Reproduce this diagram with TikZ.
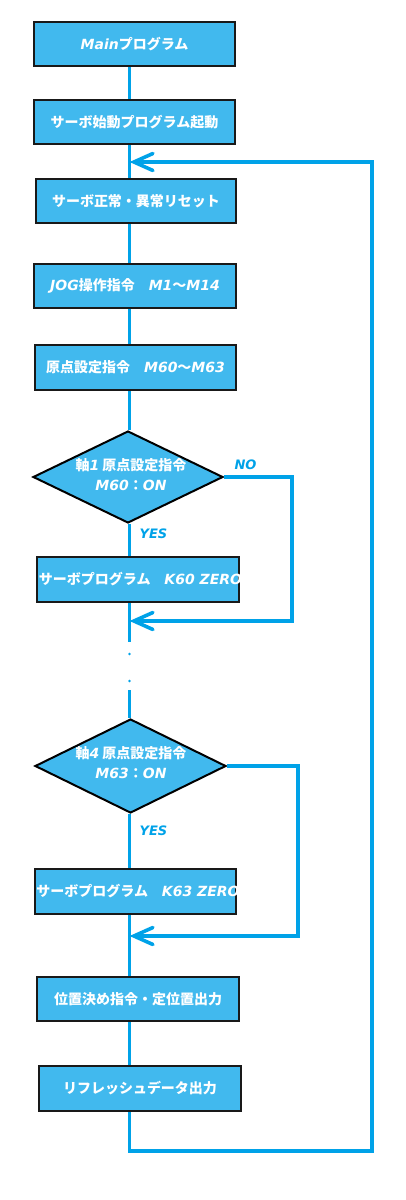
\documentclass[tikz,border=0pt]{standalone}
\usepackage{fontspec}
\usetikzlibrary{shapes.geometric,arrows.meta,calc}
\newfontfamily\jpf{Noto Sans CJK JP}
\newfontfamily\latf{DejaVu Sans}
\newcommand\LI[1]{{\latf\bfseries\itshape #1}}
\definecolor{boxblue}{RGB}{65,185,238}
\definecolor{lineblue}{RGB}{0,162,232}
\tikzset{
  fbox/.style={draw=black!90, line width=2.4pt, fill=boxblue, inner sep=0pt,
    minimum height=44pt, text=white, font=\jpf\bfseries\fontsize{14}{16}\selectfont},
  ftext/.style={text=white, inner sep=0pt, font=\jpf\bfseries\fontsize{14}{16}\selectfont},
  fdia/.style={draw=black, line width=2pt, fill=boxblue, diamond, inner sep=0pt},
  dtext/.style={text=white, align=center, font=\jpf\bfseries\fontsize{14}{20}\selectfont},
  conn/.style={draw=lineblue, line width=3.6pt},
  back/.style={conn, -{Straight Barb[length=19pt,width=17pt,line cap=round,line width=3.6pt]}},
  lbl/.style={text=lineblue, font=\latf\bfseries\itshape\fontsize{13}{15}\selectfont},
  dotmark/.style={circle, fill=lineblue, inner sep=0pt, minimum size=2.6pt},
}
\begin{document}
\begin{tikzpicture}[x=1pt,y=-1pt]
\useasboundingbox (0,0) rectangle (406,1200);
\coordinate (sp) at (129.5,0);
% boxes
\node[fbox, minimum width=201pt] (main) at (134.5,44) {\LI{Main}プログラム};
\node[fbox, minimum width=201pt] (serv) at (134.5,122) {サーボ始動プログラム起動};
\node[fbox, minimum width=200pt] (reset) at (136,201) {サーボ正常・異常リセット};
\node[fbox, minimum width=202pt] (jog) at (135,286) {\LI{JOG}操作指令　\LI{M1}～\LI{M14}};
\node[fbox, minimum width=201pt, minimum height=45pt] (gen) at (135.5,367.5) {原点設定指令　\LI{M60}～\LI{M63}};
\node[fdia, minimum width=190pt, minimum height=92pt] (d1) at (128,477) {};
\node[dtext] (d1t) at (131,475) {軸\LI{1} 原点設定指令\\\LI{M60}：\LI{ON}};
\node[fbox, minimum width=202pt, minimum height=45pt] (k60) at (138,579.5) {};
\node[ftext] (k60t) at (140.5,579.5) {サーボプログラム　\LI{K60 ZERO}};
\node[fdia, minimum width=191pt, minimum height=94pt] (d2) at (130.5,766) {};
\node[dtext] (d2t) at (131,763) {軸\LI{4} 原点設定指令\\\LI{M63}：\LI{ON}};
\node[fbox, minimum width=201pt, minimum height=45pt] (k63) at (135.5,891.5) {};
\node[ftext] (k63t) at (138,891.5) {サーボプログラム　\LI{K63 ZERO}};
\node[fbox, minimum width=202pt] (pos) at (138,999) {位置決め指令・定位置出力};
\node[fbox, minimum width=202pt, minimum height=45pt] (ref) at (140,1088.5) {リフレッシュデータ出力};
% labels
\node[lbl] (no1) at (245.5,465) {NO};
\node[lbl] (yes1) at (153.5,534) {YES};
\node[lbl] (yes2) at (153.5,831) {YES};
% coordinates
\coordinate (c1) at (129.5,642);
\coordinate (c2) at (129.5,690);
\coordinate (n1a) at (292,477);
\coordinate (n1b) at (292,621);
\coordinate (n1c) at (129.5,621);
\coordinate (n2a) at (298,766);
\coordinate (n2b) at (298,936);
\coordinate (n2c) at (129.5,936);
\coordinate (lb) at (129.5,1151);
\coordinate (rb) at (372,1151);
\coordinate (rt) at (372,162);
\coordinate (lt) at (129.5,162);
% connectors
\draw[conn] (main.south -| sp) -- (serv.north -| sp);
\draw[conn] (serv.south -| sp) -- (reset.north -| sp);
\draw[conn] (reset.south -| sp) -- (jog.north -| sp);
\draw[conn] (jog.south -| sp) -- (gen.north -| sp);
\draw[conn] (gen.south -| sp) -- (d1.north -| sp);
\draw[conn] (d1.south -| sp) -- (k60.north -| sp);
\draw[conn] (k60.south -| sp) -- (c1);
\draw[conn] (c2) -- (d2.north -| sp);
\draw[conn] (d2.south -| sp) -- (k63.north -| sp);
\draw[conn] (k63.south -| sp) -- (pos.north -| sp);
\draw[conn] (pos.south -| sp) -- (ref.north -| sp);
\node[dotmark] (dot1) at (129.5,654) {};
\node[dotmark] (dot2) at (129.5,681) {};
\draw[back] (d1.east) -- (n1a) -- (n1b) -- (n1c);
\draw[back] (d2.east) -- (n2a) -- (n2b) -- (n2c);
\draw[back] (ref.south -| sp) -- (lb) -- (rb) -- (rt) -- (lt);
\end{tikzpicture}
\end{document}
